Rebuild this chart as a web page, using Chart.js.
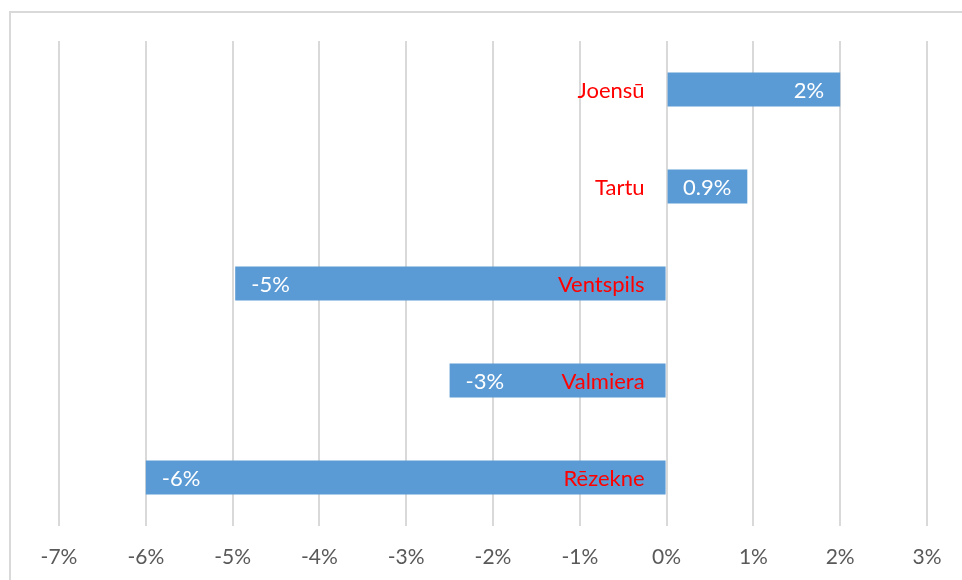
<!DOCTYPE html>
<html>
<head>
<meta charset="utf-8">
<script src="https://cdn.jsdelivr.net/npm/chart.js@4/dist/chart.umd.min.js"></script>
<style>
    html, body { margin: 0; padding: 0; background: #fff; }
    #wrap { position: relative; width: 962px; height: 580px; overflow: hidden; }
    #frame { position: absolute; left: 9px; top: 11px; width: 980px; height: 600px;
             border-left: 2px solid #d9d9d9; border-top: 2px solid #d9d9d9; }
    canvas { position: absolute; left: 0; top: 0; }
</style>
</head>
<body>
<div id="wrap">
    <div id="frame"></div>
    <canvas id="cityChart" width="962" height="580"></canvas>
</div>
<script>
const cities = ['Joensū', 'Tartu', 'Ventspils', 'Valmiera', 'Rēzekne'];
const changes = [2.0, 0.93, -4.97, -2.5, -6.0];
const changeLabels = ['2%', '0.9%', '-5%', '-3%', '-6%'];
const axisMin = -7;
const axisMax = 3;

// city names next to the zero line, values inside the bar end
const barText = {
    id: 'barText',
    afterDatasetsDraw(chart) {
        const ctx = chart.ctx;
        const x = chart.scales.x;
        const zero = x.getPixelForValue(0);
        const bars = chart.getDatasetMeta(0).data;
        ctx.save();
        ctx.font = '22px Lato, "Open Sans", sans-serif';
        ctx.textBaseline = 'middle';
        bars.forEach(function (bar, i) {
            const y = bar.y + 1;
            ctx.fillStyle = '#ff0000';
            ctx.textAlign = 'right';
            ctx.fillText(cities[i], zero - 22, y);

            ctx.fillStyle = '#ffffff';
            if (changes[i] >= 0) {
                ctx.textAlign = 'right';
                ctx.fillText(changeLabels[i], bar.x - 16, y);
            } else {
                ctx.textAlign = 'left';
                ctx.fillText(changeLabels[i], bar.x + 16, y);
            }
        });
        ctx.restore();
    }
};

document.addEventListener('DOMContentLoaded', function () {
    const ctx = document.getElementById('cityChart').getContext('2d');
    new Chart(ctx, {
        type: 'bar',
        data: {
            labels: cities,
            datasets: [{
                data: changes,
                backgroundColor: '#5b9bd5',
                borderWidth: 0,
                categoryPercentage: 1,
                barPercentage: 0.35
            }]
        },
        options: {
            indexAxis: 'y',
            responsive: false,
            animation: false,
            layout: {
                padding: { left: 59, right: 35, top: 41, bottom: 0 }
            },
            plugins: {
                legend: { display: false },
                tooltip: { enabled: false }
            },
            scales: {
                x: {
                    min: axisMin,
                    max: axisMax,
                    border: { display: false },
                    grid: { color: '#d9d9d9', lineWidth: 2, drawTicks: false },
                    ticks: {
                        stepSize: 1,
                        padding: 19,
                        color: '#595959',
                        font: { family: 'Lato, "Open Sans", sans-serif', size: 21 },
                        callback: function (v) { return v + '%'; }
                    },
                    afterFit: function (scale) { scale.height = 54; }
                },
                y: {
                    display: false
                }
            }
        },
        plugins: [barText]
    });
});
</script>
</body>
</html>
